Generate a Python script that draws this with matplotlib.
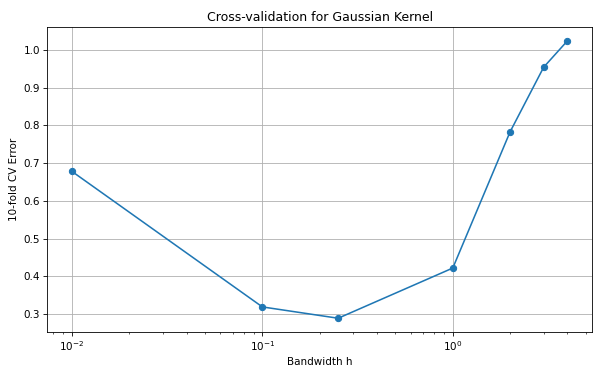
import numpy as np
import matplotlib
matplotlib.use("Agg")
import matplotlib.pyplot as plt

bandwidths = [0.01, 0.1, 0.25, 1, 2, 3, 4]
cv_error = [0.678, 0.319, 0.289, 0.422, 0.783, 0.954, 1.024]

fig, ax = plt.subplots(figsize=(597 / 75, 374 / 75), dpi=75)
ax.plot(bandwidths, cv_error, marker="o")
ax.set_xscale("log")
ax.set_xlabel("Bandwidth h")
ax.set_ylabel("10-fold CV Error")
ax.set_title("Cross-validation for Gaussian Kernel")
ax.grid(True)

fig.subplots_adjust(left=0.079, right=0.992, top=0.928, bottom=0.112)
fig.savefig("out.png", dpi=75)
